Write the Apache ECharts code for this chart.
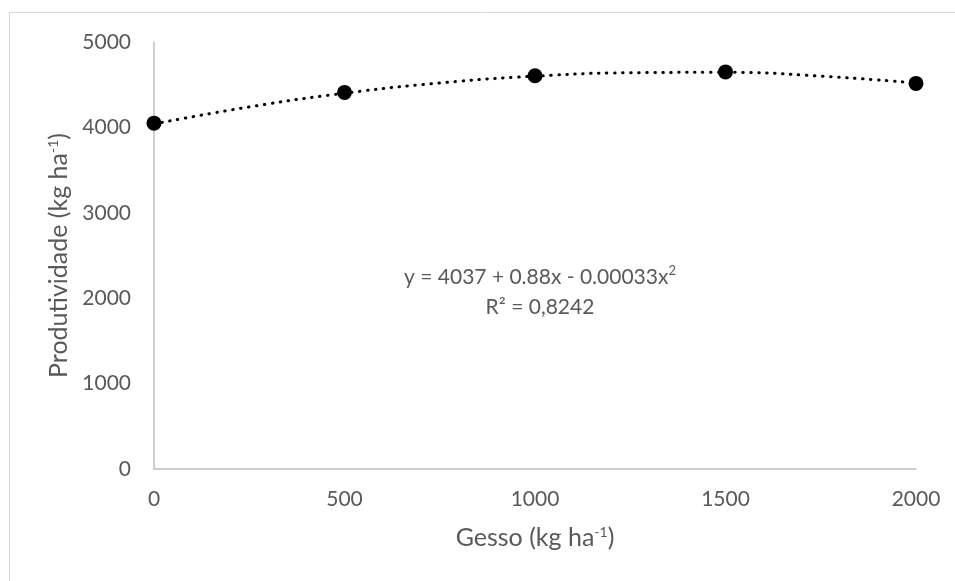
<!DOCTYPE html>
<html>
<head>
<meta charset="utf-8">
<script src="https://cdn.jsdelivr.net/npm/echarts@6/dist/echarts.min.js"></script>
<style>
  html, body { margin: 0; padding: 0; background: #fff; }
  #chart { width: 955px; height: 581px; }
</style>
</head>
<body>
<div id="chart"></div>
<script>
// observed data
const gesso = [0, 500, 1000, 1500, 2000];
const produtividade = [4050, 4410, 4605, 4650, 4515];

// trend curve
const trendX = [0, 250, 500, 750, 1000, 1250, 1500, 1750, 2000];
const trendY = [4040, 4240, 4400, 4520, 4600, 4640, 4645, 4600, 4520];

const xTicks = [0, 500, 1000, 1500, 2000];
const yTicks = [0, 1000, 2000, 3000, 4000, 5000];

const textColor = '#595959';
const font = 'Lato';

const chart = echarts.init(document.getElementById('chart'));

const supStyle = { fontSize: 14, verticalAlign: 'top', color: textColor, fontFamily: font, padding: [0, 0, 7, 0] };

const option = {
  backgroundColor: '#fff',
  animation: false,
  grid: { left: 154, right: 39, top: 42, bottom: 112 },
  xAxis: {
    type: 'value',
    min: xTicks[0],
    max: xTicks[xTicks.length - 1],
    interval: 500,
    name: 'Gesso (kg ha{sup|-1})',
    nameLocation: 'middle',
    nameGap: 56,
    nameTextStyle: { color: textColor, fontFamily: font, fontSize: 25, rich: { sup: supStyle } },
    axisLine: { show: true, lineStyle: { color: '#bfbfbf', width: 1.5 } },
    axisTick: { show: false },
    splitLine: { show: false },
    axisLabel: { color: textColor, fontFamily: font, fontSize: 21, margin: 20, formatter: v => String(v) }
  },
  yAxis: {
    type: 'value',
    min: yTicks[0],
    max: yTicks[yTicks.length - 1],
    interval: 1000,
    name: 'Produtividade (kg ha{sup|-1})',
    nameLocation: 'middle',
    nameGap: 80,
    nameTextStyle: { color: textColor, fontFamily: font, fontSize: 25, rich: { sup: supStyle } },
    axisLine: { show: true, lineStyle: { color: '#bfbfbf', width: 1.5 } },
    axisTick: { show: false },
    splitLine: { show: false },
    axisLabel: { color: textColor, fontFamily: font, fontSize: 21, margin: 23, formatter: v => String(v) }
  },
  graphic: [
    {
      type: 'rect',
      shape: { x: 9.5, y: 12.5, width: 1000, height: 1000 },
      style: { fill: 'none', stroke: '#d9d9d9', lineWidth: 1 },
      silent: true,
      z: -1
    },
    {
      type: 'text',
      x: 540,
      y: 262,
      style: {
        text: 'y = 4037 + 0.88x - 0.00033x{s|2}\nR² = 0,8242',
        align: 'center',
        fill: textColor,
        font: '21px Lato',
        lineHeight: 30,
        rich: {
          s: { fontSize: 13, verticalAlign: 'top', fill: textColor, fontFamily: font, padding: [2, 0, 0, 0] }
        }
      }
    }
  ],
  series: [
    {
      name: 'Tendência',
      type: 'line',
      smooth: true,
      symbol: 'none',
      data: trendX.map((x, i) => [x, trendY[i]]),
      lineStyle: { color: '#000', width: 3, type: [0.5, 7.5], cap: 'round' },
      z: 2
    },
    {
      name: 'Produtividade',
      type: 'scatter',
      symbol: 'circle',
      symbolSize: 15,
      data: gesso.map((x, i) => [x, produtividade[i]]),
      itemStyle: { color: '#000', opacity: 1 },
      z: 3
    }
  ]
};

chart.setOption(option);
</script>
</body>
</html>
